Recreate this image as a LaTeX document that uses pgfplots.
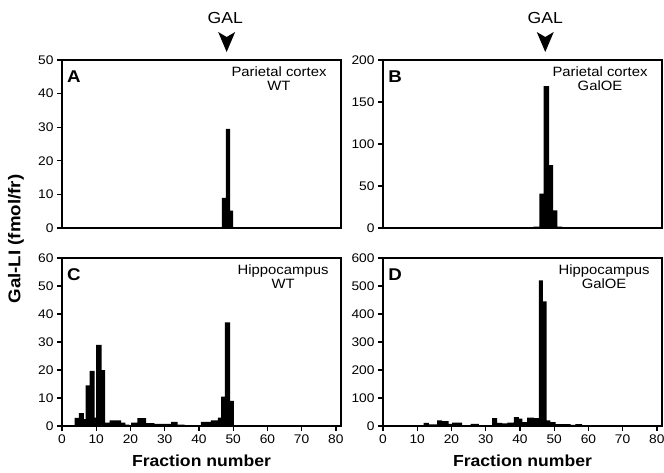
\documentclass[border=0pt]{standalone}
\usepackage{fontspec}
\setmainfont[FakeStretch=1.1]{Liberation Sans}
\usepackage{pgfplots}
\pgfplotsset{compat=1.18}

\pgfplotsset{
  panel/.style={
    scale only axis, width=279pt, height=168pt, anchor=south west,
    xmin=0, xmax=81.5, ymin=0,
    axis line style={line width=1.5pt},
    tick align=outside, ytick pos=left, xtick pos=bottom,
    major tick length=5pt,
    every tick/.style={black, line width=1.3pt},
    tick label style={font=\fontsize{12.5}{13}\selectfont},
    /pgf/number format/assume math mode=true,
    clip=false,
    after end axis/.code={\draw[line width=1.6pt] (rel axis cs:0,0) rectangle (rel axis cs:1,1);},
  },
}
\tikzset{
  fracbars/.style={fill=black, draw=none, const plot, mark=none},
  letter/.style={font=\bfseries\fontsize{17}{17}\selectfont},
  region/.style={font=\fontsize{13.5}{14.5}\selectfont, align=center, anchor=north east},
  xlab/.style={font=\bfseries\fontsize{16}{16}\selectfont},
}

\begin{document}
\begin{tikzpicture}
\path[use as bounding box] (0,0) rectangle (664pt,472pt);

% A: parietal cortex, WT
\begin{axis}[panel, at={(62pt,244pt)}, ymax=50, ytick={0,10,...,50}, xtick=\empty]
\addplot[fracbars] coordinates {(46.7,9) (47.9,29.5) (49.1,5.2) (50.0,0)} \closedcycle;
\node[letter] at ([xshift=12pt,yshift=-17pt]rel axis cs:0,1) {A};
\node[region] at ([xshift=-11pt,yshift=-3pt]rel axis cs:1,1) {Parietal cortex\\WT};
\fill ([yshift=8pt]axis cs:48.1,50) -- ++(-8.5pt,20pt) -- ++(8.5pt,-5pt) -- ++(8.5pt,5pt) -- cycle;
\node[font=\fontsize{16}{16}\selectfont] at ([yshift=42pt]axis cs:47.7,50) {GAL};
\end{axis}

% B: parietal cortex, GalOE
\begin{axis}[panel, at={(383pt,244pt)}, ymax=200, ytick={0,50,...,200}, xtick=\empty]
\addplot[fracbars] coordinates {(42.7,0.8) (43.9,1.5) (45.7,41) (46.9,169) (48.5,75)
  (49.7,21) (50.9,1.5) (52.3,0)} \closedcycle;
\node[letter] at ([xshift=12pt,yshift=-17pt]rel axis cs:0,1) {B};
\node[region] at ([xshift=-11pt,yshift=-3pt]rel axis cs:1,1) {Parietal cortex\\GalOE};
\fill ([yshift=8pt]axis cs:47.4,200) -- ++(-8.5pt,20pt) -- ++(8.5pt,-5pt) -- ++(8.5pt,5pt) -- cycle;
\node[font=\fontsize{16}{16}\selectfont] at ([yshift=42pt]axis cs:47.4,200) {GAL};
\end{axis}

% C: hippocampus, WT
\begin{axis}[panel, at={(62pt,46pt)}, ymax=60, ytick={0,10,...,60}, xtick={0,10,...,80}]
\addplot[fracbars] coordinates {(3.7,2.9) (4.9,4.6) (6.4,2.5) (6.9,14.5) (8.1,19.7) (9.5,3)
  (10.0,29) (11.6,20) (12.6,1.2) (13.9,2) (17.3,1.2) (18.5,0.5) (19.7,0.2)
  (20.2,1.2) (22.0,2.8) (24.6,1) (27.0,0.8) (31.9,1.5) (33.8,0.5) (35.8,0)
  (40.6,1.5) (43.5,2) (45.5,3) (46.5,10.5) (47.6,37) (49.1,9) (50.2,0.3) (54.2,0)} \closedcycle;
\node[letter] at ([xshift=12pt,yshift=-17pt]rel axis cs:0,1) {C};
\node[region] at ([xshift=-9pt,yshift=-3pt]rel axis cs:1,1) {Hippocampus\\WT};
\node[xlab] at ([yshift=-35pt]rel axis cs:0.5,0) {Fraction number};
\end{axis}

% D: hippocampus, GalOE
\begin{axis}[panel, at={(383pt,46pt)}, ymax=600, ytick={0,100,...,600}, xtick={0,10,...,80}]
\addplot[fracbars] coordinates {(11.9,11) (13.4,6) (15.8,20) (17.3,17) (19.2,8) (20.2,12)
  (23.1,2) (25.6,8) (28.0,3) (31.9,28) (33.3,11) (34.8,9) (36.3,12) (38.2,32)
  (39.7,26) (40.7,14) (42.1,30) (44.1,28) (45.5,520) (46.7,445) (47.8,20)
  (48.9,14) (50.4,7) (54.8,4) (56.2,7) (58.2,1) (60.6,0)} \closedcycle;
\node[letter] at ([xshift=12pt,yshift=-17pt]rel axis cs:0,1) {D};
\node[region] at ([xshift=-9pt,yshift=-3pt]rel axis cs:1,1) {Hippocampus\\GalOE};
\node[xlab] at ([yshift=-35pt]rel axis cs:0.5,0) {Fraction number};
\end{axis}

\node[rotate=90, font=\bfseries\fontsize{17}{17}\selectfont] at (16pt,233pt) {Gal-LI (fmol/fr)};
\end{tikzpicture}
\end{document}
